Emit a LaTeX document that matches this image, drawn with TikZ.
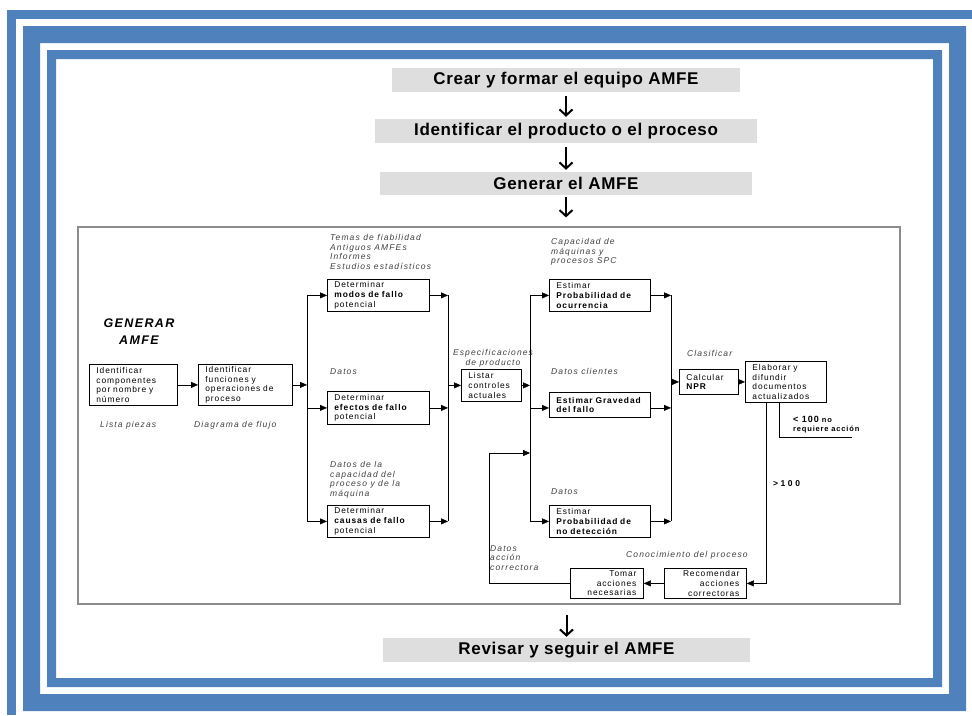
\documentclass[tikz,border=0pt]{standalone}
\usepackage{fontspec}
\setmainfont{Liberation Sans}
\newfontfamily\trackfont[LetterSpace=11]{Liberation Sans}
\newfontfamily\labelfamily[LetterSpace=13]{Liberation Sans}
\newfontfamily\headfamily[LetterSpace=4]{Liberation Sans}
\newfontfamily\widefont[LetterSpace=30]{Liberation Sans}
\usetikzlibrary{arrows.meta,positioning,calc}
\definecolor{frameblue}{RGB}{79,129,189}
\definecolor{headgray}{RGB}{222,222,222}
\newcommand\boxfont{\trackfont\fontsize{8.4}{9.6}\selectfont}
\newcommand\lblfont{\labelfamily\itshape\fontsize{8.5}{9.7}\selectfont}

\begin{document}
\begin{tikzpicture}[x=1pt,y=-1pt,
    head/.style={fill=headgray,minimum height=24pt,inner sep=0pt,font=\headfamily\bfseries\fontsize{17}{20}\selectfont},
    box/.style={draw,line width=0.8pt,anchor=north west,align=left,inner xsep=7pt,inner ysep=0pt,font=\boxfont},
    lbl/.style={anchor=north west,align=left,inner sep=0pt,font=\lblfont,text=black!75},
    flow/.style={line width=2pt,-{Straight Barb[length=6pt,width=13pt]}},
    >={Triangle[length=7pt,width=6pt]}
]
\useasboundingbox (0,0) rectangle (972,715);

% marco azul
\fill[frameblue] (7,10) rectangle (972,19);
\fill[frameblue] (7,10) rectangle (16,715);
\fill[frameblue,even odd rule] (23,26) rectangle (966,711) (40,43) rectangle (949,694);
\fill[frameblue,even odd rule] (47,50) rectangle (942,687) (56,59) rectangle (933,678);

% pasos principales
\node[head,minimum width=348pt] (crear) at (566,80) {Crear y formar el equipo AMFE};
\node[head,minimum width=382pt] (ident) at (566,131) {Identificar el producto o el proceso};
\node[head,minimum width=372pt,minimum height=23pt] (generar) at (566,183.5) {Generar el AMFE};
\node[draw=black!45,line width=1.2pt,minimum width=822pt,minimum height=377pt,inner sep=0pt] (panel) at (489,415.5) {};
\node[head,minimum width=367pt] (revisar) at (566.5,650) {Revisar y seguir el AMFE};

\draw[flow,shorten <=4pt,shorten >=2pt] (crear) -- (ident);
\draw[flow,shorten <=4pt,shorten >=2pt] (ident) -- (generar);
\draw[flow,shorten <=2pt,shorten >=9pt] (generar.south) -- (generar.south |- panel.north);
\draw[flow,shorten <=10pt,shorten >=1pt] (revisar.north |- panel.south) -- (revisar.north);

% generar AMFE
\node[font=\trackfont\bfseries\itshape\fontsize{12.5}{17}\selectfont,align=center] (titulo) at (139,332) {GENERAR\\AMFE};

\node[box,text width=74pt,minimum height=41pt] (comp) at (89,364) {Identificar\\componentes\\por nombre y\\número};
\node[box,text width=80pt,minimum height=41pt] (func) at (198,364) {Identificar\\funciones y\\operaciones de\\proceso};
\node[box,text width=88pt,minimum height=32pt] (modos) at (327,279) {Determinar\\\textbf{modos de fallo}\\potencial};
\node[box,text width=88pt,minimum height=33pt] (efectos) at (327,391) {Determinar\\\textbf{efectos de fallo}\\potencial};
\node[box,text width=88pt,minimum height=32pt] (causas) at (327,505) {Determinar\\\textbf{causas de fallo}\\potencial};
\node[box,text width=46pt,minimum height=32pt] (listar) at (461,369) {Listar\\controles\\actuales};
\node[box,text width=87pt,minimum height=32pt] (ocurr) at (549,279) {Estimar\\\textbf{Probabilidad de}\\\textbf{ocurrencia}};
\node[box,text width=87pt,minimum height=25pt] (grav) at (549,392) {\textbf{Estimar Gravedad}\\\textbf{del fallo}};
\node[box,text width=87pt,minimum height=32pt] (nodet) at (549,505) {Estimar\\\textbf{Probabilidad de}\\\textbf{no detección}};
\node[box,text width=45pt,minimum height=25pt] (calcular) at (679,369) {Calcular\\\textbf{NPR}};
\node[box,text width=67pt,minimum height=41pt] (elaborar) at (745,361) {Elaborar y\\difundir\\documentos\\actualizados};
\node[box,align=right,text width=68pt,minimum height=30pt] (recomendar) at (664,568) {Recomendar\\acciones\\correctoras};
\node[box,align=right,text width=59pt,minimum height=30pt] (tomar) at (570,568) {Tomar\\acciones\\necesarias};

\node[lbl] (lista) at (100,421) {Lista piezas};
\node[lbl] (diagrama) at (194,421) {Diagrama de flujo};
\node[lbl] (temas) at (330,234) {Temas de fiabilidad\\Antiguos AMFEs\\Informes\\Estudios estadísticos};
\node[lbl] (datosefec) at (330,368) {Datos};
\node[lbl] (datoscap) at (330,461) {Datos de la\\capacidad del\\proceso y de la\\máquina};
\node[lbl,anchor=center,align=center] (espec) at (493,358) {Especificaciones\\de producto};
\node[lbl] (capac) at (551,238) {Capacidad de\\máquinas y\\procesos SPC};
\node[lbl] (datoscli) at (551,368) {Datos clientes};
\node[lbl] (datosdet) at (551,488) {Datos};
\node[lbl] (clasif) at (687,350) {Clasificar};
\node[lbl] (datosacc) at (490,545) {Datos\\acción\\correctora};
\node[lbl] (conoc) at (626,551) {Conocimiento del proceso};
\node[lbl,text=black,font=\trackfont\bfseries\fontsize{7.5}{9}\selectfont] (menorlbl) at (793,416) {{\fontsize{9}{9}\selectfont< 100} no\\requiere acción};
\node[lbl,text=black,font=\widefont\bfseries\fontsize{8.5}{9}\selectfont] (mayorlbl) at (773,480) {>100};

% buses
\coordinate (bus1) at (307,0);
\coordinate (bus2) at (448,0);
\coordinate (bus3) at (530,0);
\coordinate (bus4) at (671,0);
\coordinate (mayor) at (766,0);
\coordinate (menor) at (779,437);
\coordinate (menorfin) at (852,437);
\coordinate (retorno) at (489,453);

\draw[->] (comp) -- (func);
\draw[->] (func) -- (func -| bus1);
\draw (modos -| bus1) -- (causas -| bus1);
\foreach \n in {modos,efectos,causas} {
  \draw[->] (\n -| bus1) -- (\n);
  \draw[->] (\n) -- (\n -| bus2);
}
\draw (modos -| bus2) -- (causas -| bus2);
\draw[->] (listar -| bus2) -- (listar);
\draw[->] (listar) -- (listar -| bus3);
\draw (ocurr -| bus3) -- (nodet -| bus3);
\draw (ocurr -| bus4) -- (nodet -| bus4);
\draw[->] (ocurr -| bus3) -- (ocurr);
\draw[->] (efectos -| bus3) -- (efectos -| grav.west);
\draw[->] (nodet -| bus3) -- (nodet);
\draw[->] (ocurr) -- (ocurr -| bus4);
\draw[->] (efectos -| grav.east) -- (efectos -| bus4);
\draw[->] (nodet) -- (nodet -| bus4);
\draw[->] (calcular -| bus4) -- (calcular);
\draw[->] (calcular) -- (elaborar);
\draw (elaborar.south -| menor) |- (menorfin);
\draw[->] (elaborar.south -| mayor) |- (recomendar);
\draw[->] (recomendar) -- (tomar);
\draw[->] (tomar) -| (retorno) -- (retorno -| bus3);
\end{tikzpicture}
\end{document}
